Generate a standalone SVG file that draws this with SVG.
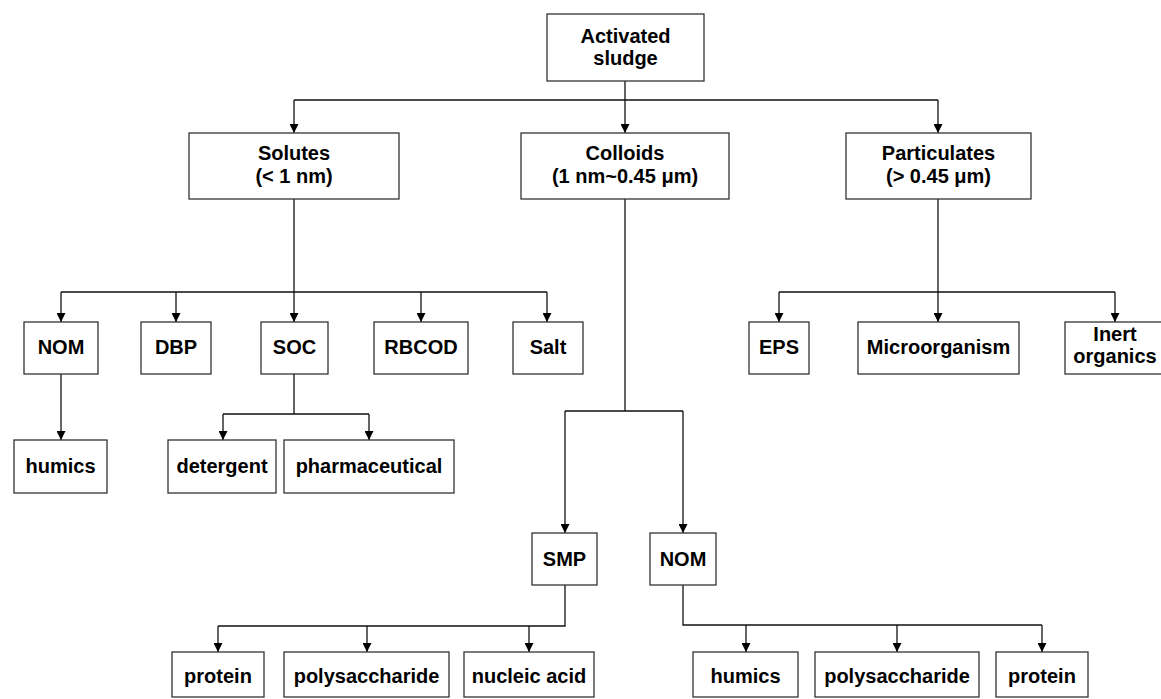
<svg xmlns="http://www.w3.org/2000/svg" width="1161" height="699" viewBox="0 0 1161 699">
<style>
.box{fill:#fff;stroke:#333;stroke-width:1.3}
.t{font-family:"Liberation Sans",Arial,sans-serif;font-weight:bold;font-size:20px;fill:#000;text-anchor:middle}
.c{fill:none;stroke:#111;stroke-width:1.3}
.a{fill:none;stroke:#111;stroke-width:1.3;marker-end:url(#ah)}
</style>
<defs>
<marker id="ah" viewBox="0 0 10 10" refX="10" refY="5" markerUnits="userSpaceOnUse" markerWidth="12" markerHeight="9" orient="auto">
<path d="M0,0 L10,5 L0,10 z" fill="#000"/>
</marker>
</defs>
<rect width="1161" height="699" fill="#fff"/>
<g id="connectors">
<path class="c" d="M625,81 V100 M294,100 H938"/>
<path class="a" d="M294,100 V133"/>
<path class="a" d="M625,100 V133"/>
<path class="a" d="M938,100 V133"/>
<path class="c" d="M294,199 V292 M61,292 H547"/>
<path class="a" d="M61,292 V322"/>
<path class="a" d="M176,292 V322"/>
<path class="a" d="M294,292 V322"/>
<path class="a" d="M421,292 V322"/>
<path class="a" d="M547,292 V322"/>
<path class="a" d="M61,374 V440"/>
<path class="c" d="M294,374 V414 M223,414 H369"/>
<path class="a" d="M223,414 V440"/>
<path class="a" d="M369,414 V440"/>
<path class="c" d="M625,199 V411 M565,411 H683"/>
<path class="a" d="M565,411 V533"/>
<path class="a" d="M683,411 V533"/>
<path class="c" d="M938,199 V292 M779,292 H1115"/>
<path class="a" d="M779,292 V322"/>
<path class="a" d="M938,292 V322"/>
<path class="a" d="M1115,292 V322"/>
<path class="c" d="M565,585 V626 H218"/>
<path class="a" d="M218,626 V652"/>
<path class="a" d="M367,626 V652"/>
<path class="a" d="M529,626 V652"/>
<path class="c" d="M683,585 V625 H1042"/>
<path class="a" d="M746,625 V652"/>
<path class="a" d="M897,625 V652"/>
<path class="a" d="M1042,625 V652"/>
</g>
<g id="activated-sludge"><rect class="box" x="547" y="14" width="157" height="67"/><text class="t" x="625.5" y="43">Activated</text><text class="t" x="625.5" y="65">sludge</text></g>
<g id="solutes"><rect class="box" x="189" y="133" width="210" height="66"/><text class="t" x="294" y="160">Solutes</text><text class="t" x="294" y="183">(&lt; 1 nm)</text></g>
<g id="colloids"><rect class="box" x="521" y="133" width="208" height="66"/><text class="t" x="625" y="160">Colloids</text><text class="t" x="625" y="183">(1 nm~0.45 μm)</text></g>
<g id="particulates"><rect class="box" x="846" y="133" width="185" height="66"/><text class="t" x="938.5" y="160">Particulates</text><text class="t" x="938.5" y="183">(&gt; 0.45 μm)</text></g>
<g id="nom1"><rect class="box" x="24" y="322" width="74" height="52"/><text class="t" x="61" y="354">NOM</text></g>
<g id="dbp"><rect class="box" x="141" y="322" width="70" height="52"/><text class="t" x="176" y="354">DBP</text></g>
<g id="soc"><rect class="box" x="261" y="322" width="67" height="52"/><text class="t" x="294.5" y="354">SOC</text></g>
<g id="rbcod"><rect class="box" x="374" y="322" width="94" height="52"/><text class="t" x="421" y="354">RBCOD</text></g>
<g id="salt"><rect class="box" x="513" y="322" width="70" height="52"/><text class="t" x="548" y="354">Salt</text></g>
<g id="eps"><rect class="box" x="749" y="322" width="60" height="52"/><text class="t" x="779" y="354">EPS</text></g>
<g id="microorganism"><rect class="box" x="858" y="322" width="161" height="52"/><text class="t" x="938.5" y="354">Microorganism</text></g>
<g id="inert-organics"><rect class="box" x="1065" y="322" width="110" height="52"/><text class="t" x="1115" y="341">Inert</text><text class="t" x="1115" y="363">organics</text></g>
<g id="humics1"><rect class="box" x="14" y="440" width="93" height="53"/><text class="t" x="60.5" y="473">humics</text></g>
<g id="detergent"><rect class="box" x="168" y="440" width="108" height="53"/><text class="t" x="222" y="473">detergent</text></g>
<g id="pharmaceutical"><rect class="box" x="284" y="440" width="170" height="53"/><text class="t" x="369" y="473">pharmaceutical</text></g>
<g id="smp"><rect class="box" x="532" y="533" width="65" height="52"/><text class="t" x="564.5" y="566">SMP</text></g>
<g id="nom2"><rect class="box" x="650" y="533" width="66" height="52"/><text class="t" x="683" y="566">NOM</text></g>
<g id="protein1"><rect class="box" x="172" y="652" width="92" height="45"/><text class="t" x="218" y="683">protein</text></g>
<g id="polysaccharide1"><rect class="box" x="284" y="652" width="165" height="45"/><text class="t" x="366.5" y="683">polysaccharide</text></g>
<g id="nucleic-acid"><rect class="box" x="464" y="652" width="130" height="45"/><text class="t" x="529" y="683">nucleic acid</text></g>
<g id="humics2"><rect class="box" x="693" y="652" width="105" height="45"/><text class="t" x="745.5" y="683">humics</text></g>
<g id="polysaccharide2"><rect class="box" x="815" y="652" width="164" height="45"/><text class="t" x="897" y="683">polysaccharide</text></g>
<g id="protein2"><rect class="box" x="996" y="652" width="92" height="45"/><text class="t" x="1042" y="683">protein</text></g>
</svg>
